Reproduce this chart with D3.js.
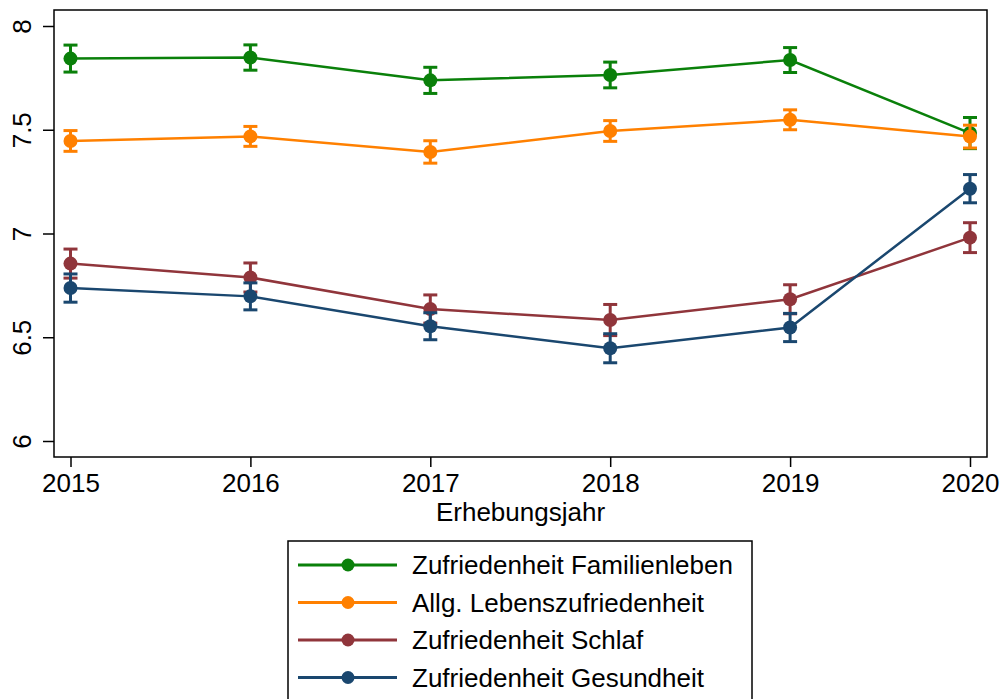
<!DOCTYPE html>
<html>
<head>
<meta charset="utf-8">
<script src="https://cdn.jsdelivr.net/npm/d3@7"></script>
<style>
  body { margin: 0; background: #fff; }
  svg { display: block; font-family: "Liberation Sans", Arial, sans-serif; }
</style>
</head>
<body>
<div id="chart"></div>
<script>
// survey years
const years = [2015, 2016, 2017, 2018, 2019, 2020];
const yTicks = [6, 6.5, 7, 7.5, 8];

// means and CI half widths
const familie = [7.843, 7.848, 7.738, 7.764, 7.836, 7.484];
const familieCi = [0.065, 0.061, 0.063, 0.062, 0.060, 0.075];
const leben = [7.446, 7.468, 7.393, 7.494, 7.548, 7.467];
const lebenCi = [0.050, 0.048, 0.054, 0.050, 0.048, 0.055];
const schlaf = [6.855, 6.788, 6.636, 6.583, 6.683, 6.980];
const schlafCi = [0.070, 0.070, 0.068, 0.075, 0.070, 0.072];
const gesund = [6.737, 6.697, 6.553, 6.447, 6.547, 7.216];
const gesundCi = [0.068, 0.065, 0.065, 0.070, 0.068, 0.068];

const series = [
  { name: 'Zufriedenheit Familienleben', color: '#0a800a', values: familie, ci: familieCi },
  { name: 'Allg. Lebenszufriedenheit', color: '#ff8000', values: leben, ci: lebenCi },
  { name: 'Zufriedenheit Schlaf', color: '#90353b', values: schlaf, ci: schlafCi },
  { name: 'Zufriedenheit Gesundheit', color: '#1a476f', values: gesund, ci: gesundCi }
];

const width = 1001, height = 699;
const frame = { left: 54, right: 987, top: 10, bottom: 457 };
const fs = 26;

const svg = d3.select('#chart').append('svg')
  .attr('width', width)
  .attr('height', height);

const x = d3.scaleLinear().domain([2015, 2020]).range([70.5, 970]);
const y = d3.scaleLinear().domain([6, 8]).range([441, 26]);

// frame
svg.append('rect')
  .attr('x', frame.left).attr('y', frame.top)
  .attr('width', frame.right - frame.left)
  .attr('height', frame.bottom - frame.top)
  .attr('fill', 'none').attr('stroke', '#000').attr('stroke-width', 1.5);

// y axis
const yAxis = svg.append('g').attr('transform', `translate(${frame.left},0)`)
  .call(d3.axisLeft(y).tickValues(yTicks).tickSize(11).tickFormat(d3.format('')));
yAxis.select('.domain').remove();
yAxis.selectAll('line').attr('stroke', '#000').attr('stroke-width', 1.5);
yAxis.selectAll('text').remove();
yAxis.selectAll('.tick').append('text')
  .attr('transform', 'translate(-23,0) rotate(-90)')
  .attr('text-anchor', 'middle')
  .attr('fill', '#000')
  .attr('font-size', fs)
  .text(d => d3.format('')(d));

// x axis
const xAxis = svg.append('g').attr('transform', `translate(0,${frame.bottom})`)
  .call(d3.axisBottom(x).tickValues(years).tickSize(10).tickFormat(d3.format('d')));
xAxis.select('.domain').remove();
xAxis.selectAll('line').attr('stroke', '#000').attr('stroke-width', 1.5);
xAxis.selectAll('text').attr('font-size', fs).attr('fill', '#000').attr('dy', null).attr('y', 35);

svg.append('text')
  .attr('x', (frame.left + frame.right) / 2).attr('y', 521)
  .attr('text-anchor', 'middle').attr('font-size', fs).attr('fill', '#000')
  .text('Erhebungsjahr');

// lines, error bars, markers
const line = d3.line().x((d, i) => x(years[i])).y(d => y(d));

series.forEach(s => {
  const g = svg.append('g');
  g.append('path').datum(s.values)
    .attr('d', line)
    .attr('fill', 'none').attr('stroke', s.color).attr('stroke-width', 2.5);

  const pts = s.values.map((v, i) => ({ yr: years[i], v: v, e: s.ci[i] }));
  const bars = g.selectAll('.err').data(pts).enter().append('g')
    .attr('stroke', s.color).attr('stroke-width', 3);
  bars.append('line')
    .attr('x1', d => x(d.yr)).attr('x2', d => x(d.yr))
    .attr('y1', d => y(d.v - d.e)).attr('y2', d => y(d.v + d.e));
  bars.append('line')
    .attr('x1', d => x(d.yr) - 7).attr('x2', d => x(d.yr) + 7)
    .attr('y1', d => y(d.v - d.e)).attr('y2', d => y(d.v - d.e));
  bars.append('line')
    .attr('x1', d => x(d.yr) - 7).attr('x2', d => x(d.yr) + 7)
    .attr('y1', d => y(d.v + d.e)).attr('y2', d => y(d.v + d.e));

  g.selectAll('circle').data(pts).enter().append('circle')
    .attr('cx', d => x(d.yr)).attr('cy', d => y(d.v))
    .attr('r', 7).attr('fill', s.color);
});

// legend
const legend = svg.append('g');
legend.append('rect')
  .attr('x', 288).attr('y', 541).attr('width', 464).attr('height', 180)
  .attr('fill', '#fff').attr('stroke', '#000').attr('stroke-width', 1.5);

const rows = legend.selectAll('.row').data(series).enter().append('g')
  .attr('transform', (d, i) => `translate(0,${565 + i * 37.5})`);
rows.append('line')
  .attr('x1', 298).attr('x2', 397).attr('y1', 0).attr('y2', 0)
  .attr('stroke', d => d.color).attr('stroke-width', 3);
rows.append('circle')
  .attr('cx', 348).attr('cy', 0).attr('r', 6.5).attr('fill', d => d.color);
rows.append('text')
  .attr('x', 412).attr('y', 9)
  .attr('font-size', fs).attr('fill', '#000')
  .text(d => d.name);
</script>
</body>
</html>
